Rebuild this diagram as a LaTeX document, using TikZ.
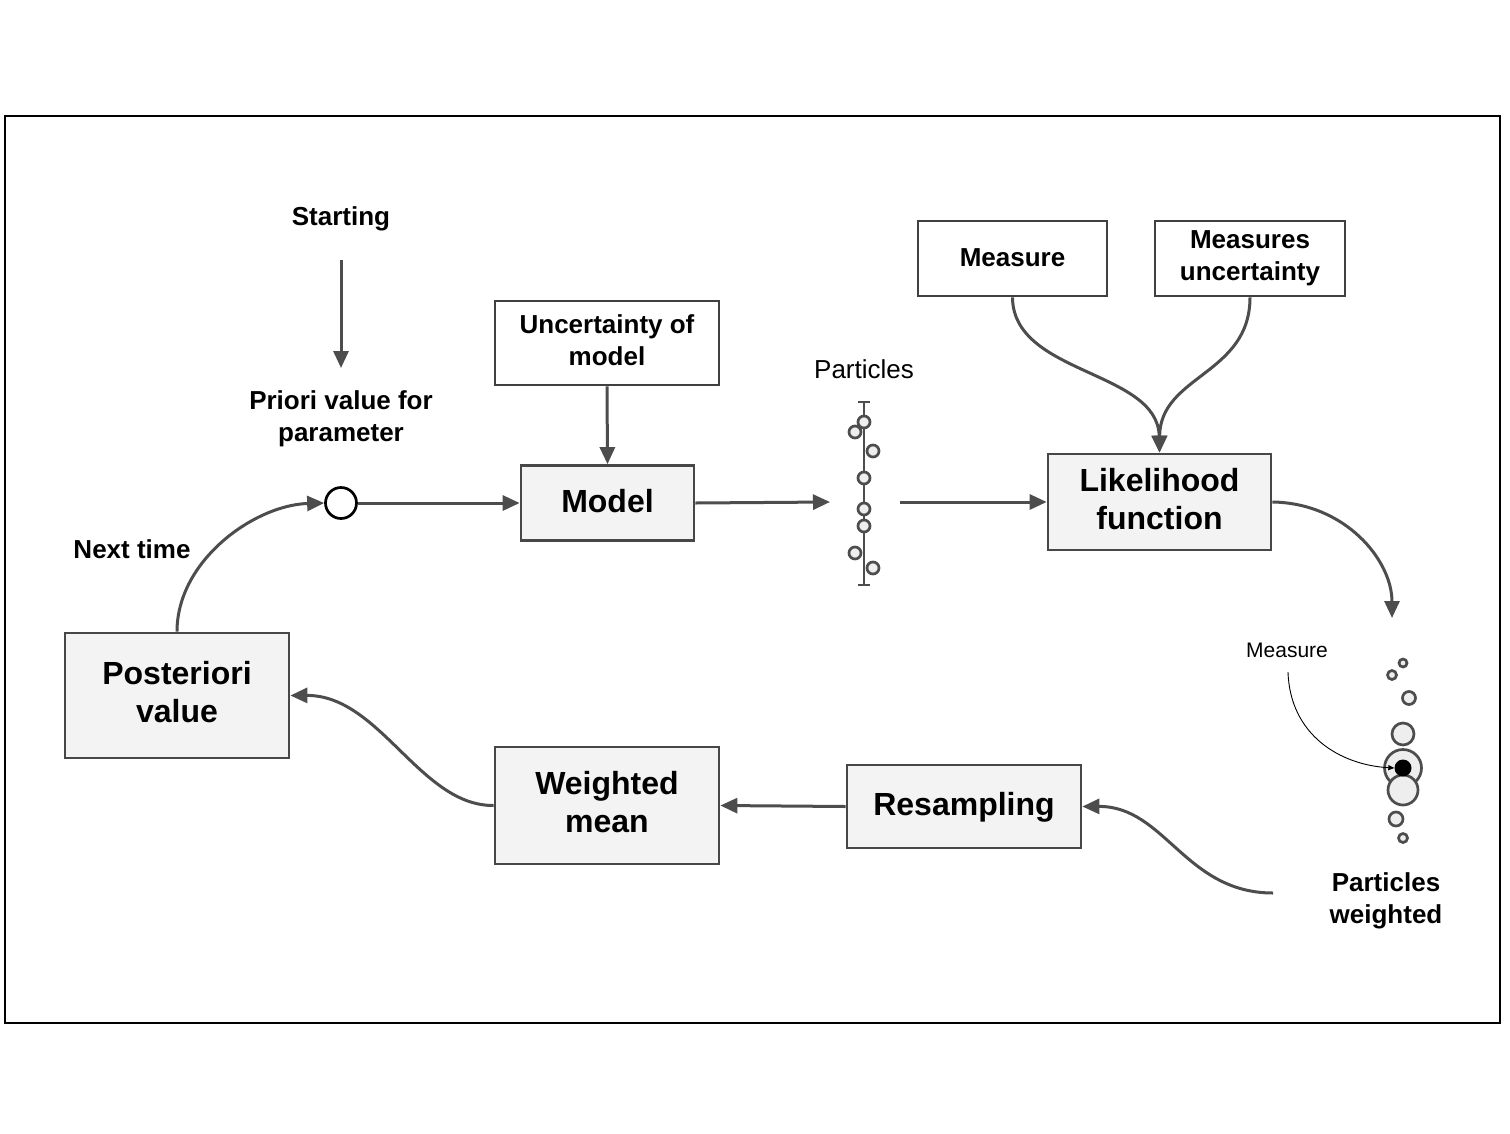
\documentclass[tikz,border=0pt]{standalone}
\usepackage{fontspec}
\setmainfont{Liberation Sans}
\usetikzlibrary{arrows.meta}
\definecolor{linec}{HTML}{4D4D4D}
\definecolor{boxc}{HTML}{474747}
\definecolor{boxfill}{HTML}{F3F3F3}
\definecolor{partfill}{HTML}{EEEEEE}
\definecolor{wboxc}{HTML}{404040}
\newcommand\lstrut{\rule[-0.212em]{0pt}{\dimexpr0.905em+3pt\relax}}
\tikzset{
  struts/.style={execute at begin node=\lstrut, execute at end node=\lstrut},
  gbox/.style={draw=boxc, line width=2.7pt, fill=boxfill, inner sep=0pt, align=center, struts,
    font=\bfseries\fontsize{32}{38}\selectfont},
  wbox/.style={draw=wboxc, line width=2.7pt, fill=white, inner sep=0pt, align=center, struts,
    font=\bfseries\fontsize{26}{32}\selectfont},
  lab/.style={inner sep=0pt, align=center, struts, font=\bfseries\fontsize{26}{32}\selectfont},
  conn/.style={draw=linec, line width=3pt, -{Triangle[length=17pt,width=15pt]}},
  part/.style={circle, draw=linec, line width=2.7pt, fill=partfill, inner sep=0pt},
}
\begin{document}
\begin{tikzpicture}[x=1pt,y=-1pt]
\useasboundingbox (0,0) rectangle (1510,1133);
\fill[white] (0,0) rectangle (1510,1133);
\draw[black, line width=2.5pt] (5,116) rectangle (1500,1023);

% texts
\node[lab] (start) at (341,218) {Starting};
\coordinate (startA) at (341,260);
\coordinate (startB) at (341,368);
\draw[conn] (startA) -- (startB);
\node[lab] (priori) at (341,419) {Priori value for\\parameter};
\node[circle, draw=black, line width=2.7pt, fill=white, minimum size=31pt, inner sep=0pt] (prior) at (341,503) {};
\node[lab] (next) at (132,551) {Next time};

% boxes
\node[wbox, minimum width=224pt, minimum height=84pt] (unc) at (607,343) {Uncertainty of\\model};
\node[gbox, minimum width=173pt, minimum height=75pt] (model) at (607.5,503) {Model};
\node[wbox, minimum width=189pt, minimum height=75pt] (meas) at (1012.5,258.5) {Measure};
\node[wbox, minimum width=190pt, minimum height=75pt] (measu) at (1250,258.5) {Measures\\uncertainty};
\node[gbox, minimum width=223pt, minimum height=96pt] (lik) at (1159.5,502) {Likelihood\\function};
\node[gbox, minimum width=234pt, minimum height=83pt] (resamp) at (964,806.5) {Resampling};
\node[gbox, minimum width=224pt, minimum height=117pt] (wmean) at (607,805.5) {Weighted\\mean};
\node[gbox, minimum width=224pt, minimum height=125pt] (post) at (177,695.5) {Posteriori\\value};

% particles
\node[inner sep=0pt, struts, font=\fontsize{26}{32}\selectfont] (plab) at (864,371) {Particles};
\coordinate (ptop) at (864,402);
\coordinate (pbot) at (864,585);
\draw[linec, line width=2.7pt] (ptop) -- (pbot);
\draw[linec, line width=2.7pt] ([xshift=-6pt]ptop) -- ([xshift=6pt]ptop);
\draw[linec, line width=2.7pt] ([xshift=-6pt]pbot) -- ([xshift=6pt]pbot);
\foreach \x/\y [count=\i] in {864/422, 855/432, 873/451, 864/478, 864/509, 864/526, 855/553, 873/568}
  \node[part, minimum size=12pt] (p\i) at (\x,\y) {};
\coordinate (pin) at (830,502);
\coordinate (pout) at (900,502);

% weighted particles
\foreach \x/\y/\r [count=\i] in {1403/663/8, 1392/675/9, 1409/698/13, 1403/734/22, 1403/768/37, 1403/790/30, 1396/819/14, 1403/838/9}
  \node[part, minimum size=\r pt] (w\i) at (\x,\y) {};
\node[circle, fill=black, minimum size=17pt, inner sep=0pt] (wdot) at (1403,768) {};
\node[inner sep=0pt, struts, font=\fontsize{21}{25}\selectfont] (mlab) at (1287,651) {Measure};
\coordinate (mstart) at (1288,672);
\draw[black, line width=0.9pt, -{Triangle[length=6pt,width=5pt]}] (mstart) .. controls (1290,735) and (1340,765) .. (wdot.west);
\coordinate (wtop) at (1392,618);
\node[lab] (pw) at (1386,901) {Particles\\weighted};
\coordinate (pwout) at (1273,893);

% connectors
\draw[conn] (prior.east) -- (model.west);
\draw[conn] (unc.south) -- (model.north);
\draw[conn] (model.east) -- (pin);
\draw[conn] (pout) -- (lik.west);
\draw[conn] (meas.south) .. controls (1013,375) and (1158,370) .. (lik.north);
\draw[conn] (measu.south) .. controls (1250,375) and (1160,375) .. (lik.north);
\draw[conn] (lik.east) .. controls (1345,503) and (1392,560) .. (wtop);
\draw[conn] (pwout) .. controls (1185,893) and (1165,806) .. (resamp.east);
\draw[conn] (resamp.west) -- (wmean.east);
\draw[conn] (wmean.west) .. controls (420,806) and (380,695) .. (post.east);
\draw[conn] (post.north) .. controls (177,560) and (255,505) .. (prior.west);
\end{tikzpicture}
\end{document}
